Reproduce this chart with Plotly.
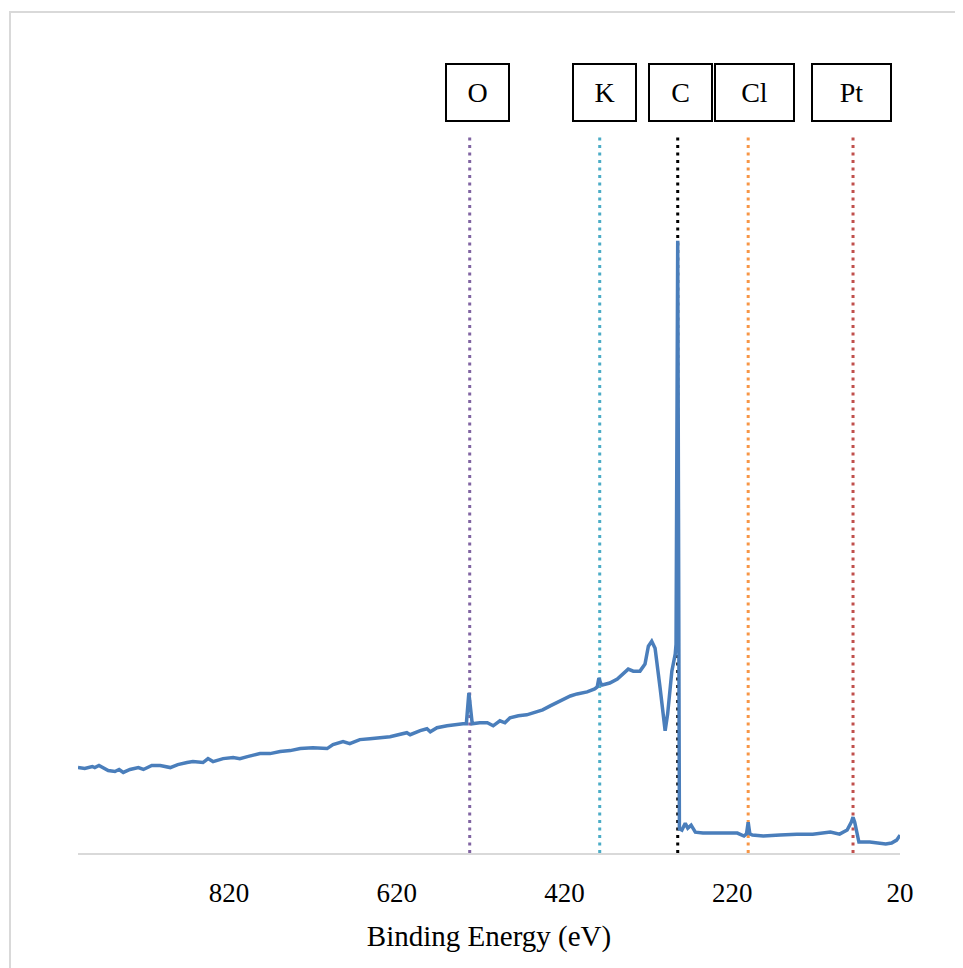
import plotly.graph_objects as go

# Survey spectrum (binding energy in eV, intensity in counts)
energy = [1000, 992, 983, 980, 975, 970, 964, 956, 951, 946, 938, 928, 922, 912, 902,
          890, 881, 870, 863, 851, 845, 839, 827, 815, 807, 798, 783, 771, 759, 747,
          735, 720, 703, 696, 684, 676, 664, 652, 640, 628, 608, 604, 592, 584, 580,
          572, 560, 553, 541, 537, 534, 530, 521, 512, 505, 497, 491, 485, 475, 465,
          457, 446, 437, 425, 413, 405, 393, 384, 381, 379, 377, 375, 366, 357, 350,
          344, 338, 330, 324, 320, 316, 312, 306, 300, 297, 292, 288, 287, 285, 283,
          282, 280, 276, 273, 269, 264, 255, 235, 214, 206, 203, 201, 199, 196, 183,
          163, 143, 124, 103, 92, 83, 78, 76, 74, 72, 69, 56, 44, 37, 30, 24, 20]
intensity = [7160, 7080, 7250, 7160, 7330, 7160, 6910, 6830, 7000, 6750, 7000, 7160, 7000, 7330, 7330,
             7160, 7410, 7580, 7660, 7580, 7910, 7660, 7910, 8000, 7910, 8080, 8330, 8330, 8500, 8580,
             8750, 8830, 8750, 9080, 9330, 9160, 9500, 9580, 9660, 9750, 10080, 9910, 10250, 10410, 10160,
             10500, 10660, 10750, 10830, 10830, 13410, 10830, 10910, 10910, 10660, 11080, 10910, 11330, 11500, 11580,
             11750, 12000, 12330, 12750, 13160, 13330, 13500, 13750, 13910, 14660, 14240, 14080, 14240, 14580, 15000,
             15410, 15240, 15240, 15830, 17330, 17740, 17160, 13830, 10250, 11660, 15240, 16660, 17500, 51300, 1900,
             2000, 1920, 2500, 2080, 2330, 1750, 1670, 1670, 1670, 1420, 1600, 2580, 1600, 1500, 1420,
             1500, 1580, 1580, 1750, 1580, 1920, 2600, 3000, 2580, 2000, 920, 920, 830, 750, 830, 1080, 1500]

# Element reference lines
elements = ["O", "K", "C", "Cl", "Pt"]
element_energy = [533, 378, 285, 201, 76]
element_colors = ["#8064A2", "#4BACC6", "#000000", "#F79646", "#C0504D"]

tick_vals = [820, 620, 420, 220, 20]
y_max = 60000

fig = go.Figure()

for name, e, col in zip(elements, element_energy, element_colors):
    fig.add_trace(go.Scatter(x=[e, e], y=[0, y_max], mode="lines",
                             line=dict(color=col, width=3, dash="3px,4.5px"),
                             showlegend=False, hoverinfo="skip"))

fig.add_trace(go.Scatter(x=energy, y=intensity, mode="lines",
                         line=dict(color="#4A7EBB", width=3.5),
                         showlegend=False))

# Label boxes
box_xshift = [7.5, 4.5, 2.5, 6.5, -1.5]
box_width = [61, 61, 61, 77, 77]
for name, e, xs, w in zip(elements, element_energy, box_xshift, box_width):
    fig.add_annotation(x=e, xref="x", y=1.062, yref="paper", text=name,
                       showarrow=False, xshift=xs, xanchor="center", yanchor="middle",
                       width=w, height=55, bordercolor="#000000", borderwidth=2,
                       borderpad=0, bgcolor="white",
                       font=dict(family="Liberation Serif", size=28, color="#000000"))

# Chart outer border
fig.add_shape(type="rect", xref="paper", yref="paper",
              x0=(10 - 78) / 822, x1=(990 - 78) / 822,
              y0=(853 - 990) / 716, y1=(853 - 12) / 716,
              line=dict(color="#D9D9D9", width=2), fillcolor="rgba(0,0,0,0)", layer="below")

fig.update_layout(
    width=955, height=960,
    margin=dict(l=70, r=63, t=129, b=115),
    paper_bgcolor="white", plot_bgcolor="white",
    font=dict(family="Liberation Serif", color="#000000"),
    xaxis=dict(range=[1000, 20], tickvals=tick_vals, ticktext=[str(v) for v in tick_vals],
               showgrid=False, zeroline=False, showline=True, linecolor="#D9D9D9", linewidth=1.5,
               ticks="", ticklabelstandoff=15,
               tickfont=dict(family="Liberation Serif", size=27, color="#000000"),
               title=dict(text="Binding Energy (eV)", standoff=19,
                          font=dict(family="Liberation Serif", size=29, color="#000000"))),
    yaxis=dict(range=[0, y_max], visible=False, showgrid=False),
)

fig.write_html("out.html")
